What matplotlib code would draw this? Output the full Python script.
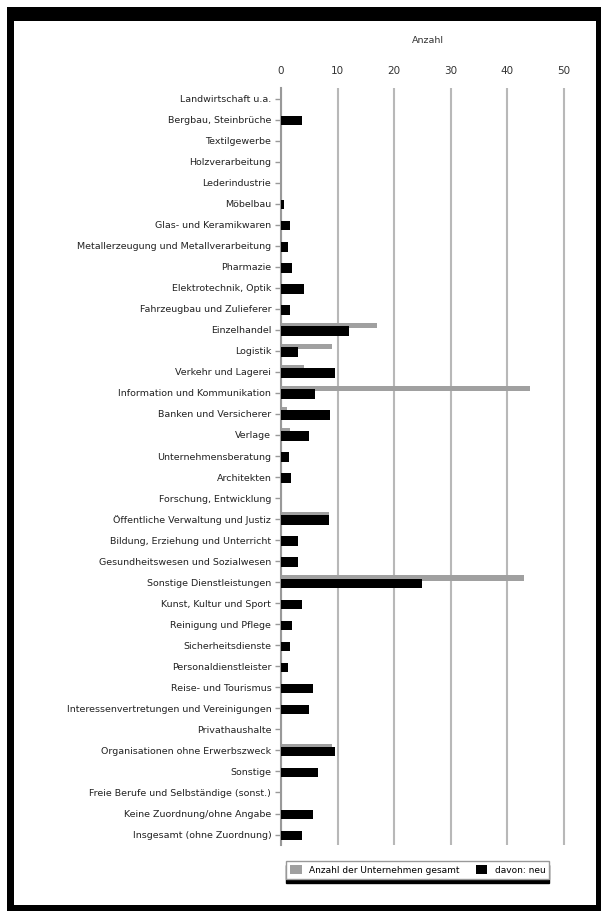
import matplotlib.pyplot as plt
import numpy as np
from matplotlib.patches import Rectangle

# Branchen von oben nach unten
branchen = [
    "Landwirtschaft u.a.", "Bergbau, Steinbrüche", "Textilgewerbe",
    "Holzverarbeitung", "Lederindustrie", "Möbelbau",
    "Glas- und Keramikwaren", "Metallerzeugung und Metallverarbeitung",
    "Pharmazie", "Elektrotechnik, Optik", "Fahrzeugbau und Zulieferer",
    "Einzelhandel", "Logistik", "Verkehr und Lagerei",
    "Information und Kommunikation", "Banken und Versicherer", "Verlage",
    "Unternehmensberatung", "Architekten", "Forschung, Entwicklung",
    "Öffentliche Verwaltung und Justiz", "Bildung, Erziehung und Unterricht",
    "Gesundheitswesen und Sozialwesen", "Sonstige Dienstleistungen",
    "Kunst, Kultur und Sport", "Reinigung und Pflege", "Sicherheitsdienste",
    "Personaldienstleister", "Reise- und Tourismus",
    "Interessenvertretungen und Vereinigungen", "Privathaushalte",
    "Organisationen ohne Erwerbszweck", "Sonstige",
    "Freie Berufe und Selbständige (sonst.)", "Keine Zuordnung/ohne Angabe",
    "Insgesamt (ohne Zuordnung)",
]
werte_grau = [0, 0, 0, 0, 0, 0, 0, 0, 0, 0, 0, 17, 9, 4, 44, 1, 1.6, 0,
              0, 0, 8.4, 0, 0, 43, 0, 0, 0, 0, 0, 0, 0, 9, 0, 0, 0, 0]
werte_schwarz = [0, 3.7, 0, 0, 0, 0.5, 1.5, 1.2, 2, 4, 1.5, 12, 3, 9.5, 6,
                 8.7, 5, 1.4, 1.8, 0, 8.4, 3, 3, 25, 3.7, 2, 1.6, 1.3, 5.7,
                 5, 0, 9.6, 6.6, 0, 5.7, 3.7]
ticks_x = [0, 10, 20, 30, 40, 50]
legende = ["Anzahl der Unternehmen gesamt", "davon: neu"]

fig = plt.figure(figsize=(6.01, 9.11), dpi=100)
ax = fig.add_axes([0.4676, 0.0724, 0.4892, 0.8310])

y = np.arange(len(branchen))
ax.barh(y - 0.2, werte_grau, height=0.25, color='#a0a0a0',
        label=legende[0], zorder=2)
ax.barh(y + 0.05, werte_schwarz, height=0.45, color='black',
        label=legende[1], zorder=3)

ax.set_ylim(len(branchen) - 0.5, -0.5)
ax.set_xlim(0, 52)
ax.set_yticks(y)
ax.set_yticklabels(branchen, fontsize=6.8, color='#222222')
ax.xaxis.tick_top()
ax.xaxis.set_label_position('top')
ax.set_xticks(ticks_x)
ax.set_xlabel("Anzahl", fontsize=6.8, labelpad=16, color='#333333')
ax.tick_params(axis='x', length=0, labelsize=7.5, pad=9, colors='#333333')
ax.tick_params(axis='y', length=4, width=1, color='#999999', pad=3)
ax.grid(axis='x', color='#b8b8b8', lw=1.5, zorder=0)
ax.set_axisbelow(True)
for s in ['top', 'right', 'bottom']:
    ax.spines[s].set_visible(False)
ax.spines['left'].set_color('#999999')
ax.spines['left'].set_linewidth(1.5)

fig.legend(loc='center left', bbox_to_anchor=(0.468, 0.0455), ncol=2,
           fontsize=6.5, frameon=True, fancybox=False, edgecolor='#999999',
           shadow={'color': 'black', 'alpha': 1, 'ox': 0, 'oy': -3},
           handlelength=1.3, handleheight=1.3, columnspacing=1.8,
           borderpad=0.45)

# schwarzer Rahmen um das Bild
W, H = 601, 911
for x0, y0, w, h in [(7, H - 21, W - 7, 14), (7, 0, 7, H - 7),
                     (W - 5, 0, 5, H - 7), (7, 0, W - 7, 6)]:
    fig.add_artist(Rectangle((x0 / W, y0 / H), w / W, h / H,
                             transform=fig.transFigure, color='black', lw=0))

fig.savefig("out.png", dpi=100)
